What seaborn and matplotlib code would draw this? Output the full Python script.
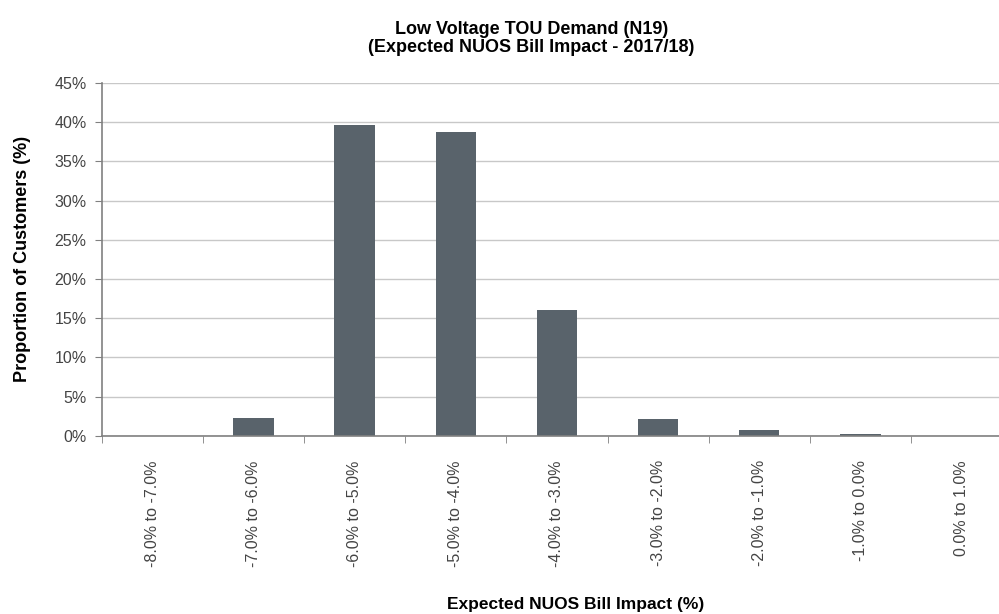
import numpy as np
import pandas as pd
import matplotlib
matplotlib.use("Agg")
import matplotlib.pyplot as plt
import seaborn as sns
from matplotlib.ticker import FixedLocator, PercentFormatter

# Data
categories = ["-8.0% to -7.0%", "-7.0% to -6.0%", "-6.0% to -5.0%", "-5.0% to -4.0%",
              "-4.0% to -3.0%", "-3.0% to -2.0%", "-2.0% to -1.0%", "-1.0% to 0.0%",
              "0.0% to 1.0%"]
proportions = [0.0, 2.3, 39.6, 38.8, 16.1, 2.2, 0.8, 0.2, 0.0]

df = pd.DataFrame({"impact": categories, "share": proportions})

sns.set_style("white")
plt.rcParams["font.family"] = ["Liberation Sans", "DejaVu Sans"]

fig = plt.figure(figsize=(9.99, 6.14), dpi=100)
ax = fig.add_axes([0.102, 0.290, 0.911, 0.575])

sns.barplot(data=df, x="impact", y="share", color="#59636b", width=0.4,
            saturation=1, linewidth=0, ax=ax, zorder=3)

ax.set_ylim(0, 45)
ax.set_xlim(-0.5, len(categories) - 0.5)
ax.yaxis.set_major_locator(FixedLocator(np.arange(0, 46, 5)))
ax.yaxis.set_major_formatter(PercentFormatter(decimals=0))
ax.grid(axis="y", color="#c8c8c8", linewidth=1, zorder=0)
ax.grid(axis="x", visible=False)

for side in ["top", "right"]:
    ax.spines[side].set_visible(False)
for side in ["left", "bottom"]:
    ax.spines[side].set_color("#808080")
    ax.spines[side].set_linewidth(1.2)
    ax.spines[side].set_zorder(4)

ax.tick_params(axis="y", which="major", left=True, length=5, color="#808080",
               labelsize=11.5, labelcolor="#444444", pad=6)
ax.tick_params(axis="x", which="major", bottom=False, labelsize=11.5,
               labelcolor="#444444", rotation=90, pad=14)
ax.xaxis.set_minor_locator(FixedLocator(np.arange(-0.5, len(categories), 1)))
ax.tick_params(axis="x", which="minor", bottom=True, length=5, color="#808080")

ax.set_xlabel("Expected NUOS Bill Impact (%)", fontsize=12.5, fontweight="bold",
              color="black")
ax.xaxis.set_label_coords(0.52, -0.455)
ax.set_ylabel("Proportion of Customers (%)", fontsize=13, fontweight="bold",
              color="black", labelpad=17)
fig.suptitle("Low Voltage TOU Demand (N19)\n(Expected NUOS Bill Impact - 2017/18)",
             fontsize=13, fontweight="bold", color="black", y=0.965, x=0.532,
             linespacing=1.05)

fig.savefig("out.png", dpi=100, facecolor="white")
